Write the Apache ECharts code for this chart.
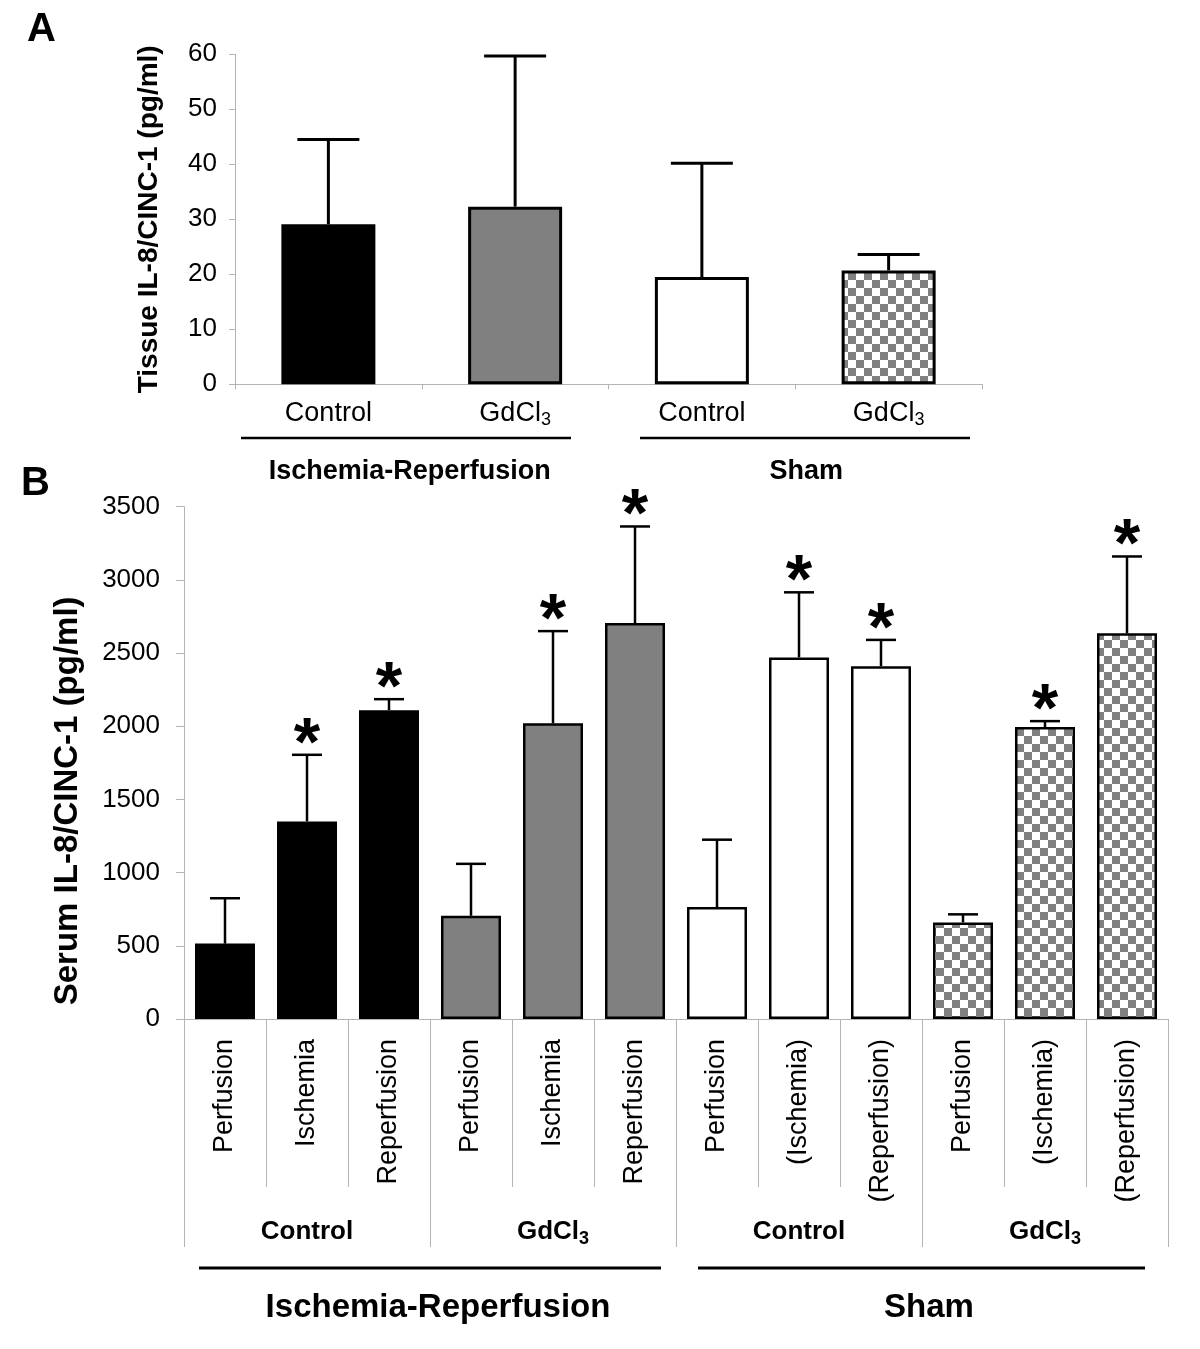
<!DOCTYPE html>
<html><head><meta charset="utf-8">
<script src="https://cdn.jsdelivr.net/npm/echarts@6/dist/echarts.min.js"></script>
<style>html,body{margin:0;padding:0;background:#fff}#c{width:1200px;height:1349px}</style>
</head><body><div id="c"></div>
<script>
// ---------- DATA ----------
// Panel A: tissue IL-8/CINC-1 (pg/ml)
const aCategories = ['Control', 'GdCl3', 'Control', 'GdCl3'];
const aGroups = ['Ischemia-Reperfusion', 'Sham'];
const aMeans = [29.1, 32.3, 19.5, 20.7];
const aSD = [15.4, 27.4, 20.7, 2.9];
const aFillKeys = ['black', 'gray', 'white', 'checker'];

// Panel B: serum IL-8/CINC-1 (pg/ml)
const bPhases = ['Perfusion', 'Ischemia', 'Reperfusion', 'Perfusion', 'Ischemia', 'Reperfusion',
                 'Perfusion', '(Ischemia)', '(Reperfusion)', 'Perfusion', '(Ischemia)', '(Reperfusion)'];
const bTreatments = ['Control', 'GdCl3', 'Control', 'GdCl3'];
const bGroups = ['Ischemia-Reperfusion', 'Sham'];
const bMeans = [515, 1350, 2110, 705, 2020, 2705, 765, 2470, 2410, 660, 1995, 2635];
const bSD = [310, 455, 75, 355, 630, 660, 460, 445, 180, 55, 40, 525];
const bSignificant = [0, 1, 1, 0, 1, 1, 0, 1, 1, 0, 1, 1];
const bFillKeys = ['black', 'gray', 'white', 'checker']; // per treatment group of 3

// ---------- STYLE ----------
const FONT = '"Liberation Sans", Arial, sans-serif';
const AXIS_GRAY = '#b4b4b4';

function makeChecker() {
  const c = document.createElement('canvas');
  c.width = 16; c.height = 16;
  const g = c.getContext('2d');
  g.fillStyle = '#ffffff'; g.fillRect(0, 0, 16, 16);
  g.fillStyle = '#808080';
  g.fillRect(0, 0, 8, 8); g.fillRect(8, 8, 8, 8);
  return c;
}
const checker = makeChecker();
const fills = {
  black: '#000000',
  gray: '#808080',
  white: '#ffffff',
  checker: { image: checker, repeat: 'repeat' }
};

function gdFormatter(v) {
  return v === 'GdCl3' ? '{m|GdCl}{s|3}' : '{m|' + v + '}';
}
function plainNum(v) { return String(v); }

function errRender(capHalf, lw, starOffset, starFont) {
  return function (params, api) {
    const i = api.value(0), m = api.value(1), sd = api.value(2), sig = api.value(3);
    const p0 = api.coord([i, m]);
    const p1 = api.coord([i, m + sd]);
    const children = [
      { type: 'line', shape: { x1: p0[0], y1: p0[1], x2: p1[0], y2: p1[1] }, style: { stroke: '#000', lineWidth: lw } },
      { type: 'line', shape: { x1: p1[0] - capHalf, y1: p1[1], x2: p1[0] + capHalf, y2: p1[1] }, style: { stroke: '#000', lineWidth: lw } }
    ];
    if (sig) {
      children.push({
        type: 'text',
        style: { text: '*', x: p1[0], y: p1[1] - starOffset, font: starFont, fill: '#000', align: 'center', verticalAlign: 'middle' }
      });
    }
    return { type: 'group', children: children };
  };
}

const chart = echarts.init(document.getElementById('c'), null, { renderer: 'canvas' });

const richA = {
  m: { fontSize: 27, fontFamily: FONT, color: '#000', lineHeight: 32 },
  s: { fontSize: 18, fontFamily: FONT, color: '#000', lineHeight: 18, verticalAlign: 'bottom' }
};
const richBBold = {
  m: { fontSize: 26, fontWeight: 'bold', fontFamily: FONT, color: '#000', lineHeight: 32 },
  s: { fontSize: 18, fontWeight: 'bold', fontFamily: FONT, color: '#000', lineHeight: 18, verticalAlign: 'bottom' }
};

const option = {
  animation: false,
  backgroundColor: '#ffffff',
  grid: [
    { left: 235, top: 54.3, width: 747, height: 330 },
    { left: 184, top: 506.7, width: 984, height: 512.3 }
  ],
  xAxis: [
    // Panel A
    {
      type: 'category', gridIndex: 0, data: aCategories, position: 'bottom',
      axisLine: { show: true, lineStyle: { color: AXIS_GRAY, width: 1 } },
      axisTick: { show: true, length: 5, lineStyle: { color: AXIS_GRAY } },
      axisLabel: { margin: 13, formatter: gdFormatter, rich: richA }
    },
    {
      type: 'category', gridIndex: 0, data: aGroups, position: 'bottom',
      axisLine: { show: false }, axisTick: { show: false },
      axisLabel: {
        margin: 74,
        formatter: function (v) { return v === 'Sham' ? '{sh|' + v + '}' : '{ir|' + v + '}'; },
        rich: {
          ir: { fontSize: 27, fontWeight: 'bold', fontFamily: FONT, color: '#000', padding: [0, 24, 0, 0] },
          sh: { fontSize: 27, fontWeight: 'bold', fontFamily: FONT, color: '#000', padding: [0, 0, 0, 22] }
        }
      }
    },
    // Panel B
    {
      type: 'category', gridIndex: 1, data: bPhases, position: 'bottom',
      axisLine: { show: true, lineStyle: { color: AXIS_GRAY, width: 1 } },
      axisTick: { show: true, length: 168, interval: 0, lineStyle: { color: AXIS_GRAY } },
      axisLabel: { interval: 0, rotate: 90, margin: 20, fontSize: 27, fontFamily: FONT, color: '#000' }
    },
    {
      type: 'category', gridIndex: 1, data: bTreatments, position: 'bottom',
      axisLine: { show: false },
      axisTick: { show: true, length: 228, interval: 0, lineStyle: { color: AXIS_GRAY } },
      axisLabel: { interval: 0, margin: 197, formatter: gdFormatter, rich: richBBold }
    },
    {
      type: 'category', gridIndex: 1, data: bGroups, position: 'bottom',
      axisLine: { show: false }, axisTick: { show: false },
      axisLabel: {
        interval: 0, margin: 272,
        formatter: function (v) { return v === 'Sham' ? '{sh|' + v + '}' : '{ir|' + v + '}'; },
        rich: {
          ir: { fontSize: 33, fontWeight: 'bold', fontFamily: FONT, color: '#000', padding: [0, 0, 0, 16] },
          sh: { fontSize: 33, fontWeight: 'bold', fontFamily: FONT, color: '#000', padding: [0, 0, 0, 14] }
        }
      }
    }
  ],
  yAxis: [
    {
      type: 'value', gridIndex: 0, min: 0, max: 60, interval: 10,
      name: 'Tissue IL-8/CINC-1 (pg/ml)', nameLocation: 'middle', nameRotate: 90, nameGap: 72,
      nameTextStyle: { fontSize: 28, fontWeight: 'bold', fontFamily: FONT, color: '#000' },
      axisLine: { show: true, lineStyle: { color: AXIS_GRAY, width: 1 } },
      axisTick: { show: true, length: 6, lineStyle: { color: AXIS_GRAY } },
      splitLine: { show: false },
      axisLabel: { margin: 18, fontSize: 26, fontFamily: FONT, color: '#000', formatter: plainNum }
    },
    {
      type: 'value', gridIndex: 1, min: 0, max: 3500, interval: 500,
      name: 'Serum IL-8/CINC-1 (pg/ml)', nameLocation: 'middle', nameRotate: 90, nameGap: 100,
      nameTextStyle: { fontSize: 33, fontWeight: 'bold', fontFamily: FONT, color: '#000', padding: [0, 76, 0, 0] },
      axisLine: { show: true, lineStyle: { color: AXIS_GRAY, width: 1 } },
      axisTick: { show: true, length: 8, lineStyle: { color: AXIS_GRAY } },
      splitLine: { show: false },
      axisLabel: { margin: 24, fontSize: 26, fontFamily: FONT, color: '#000', formatter: plainNum }
    }
  ],
  series: [
    {
      type: 'bar', xAxisIndex: 0, yAxisIndex: 0, barWidth: 94,
      data: aMeans.map(function (v, i) {
        return { value: v, itemStyle: { color: fills[aFillKeys[i]], borderColor: '#000', borderWidth: 3 } };
      }),
      z: 2
    },
    {
      type: 'custom', xAxisIndex: 0, yAxisIndex: 0,
      renderItem: errRender(31, 3, 0, ''),
      encode: { x: 0, y: 1 },
      data: aMeans.map(function (v, i) { return [i, v, aSD[i], 0]; }),
      z: 3
    },
    {
      type: 'bar', xAxisIndex: 2, yAxisIndex: 1, barWidth: 60,
      data: bMeans.map(function (v, i) {
        return { value: v, itemStyle: { color: fills[bFillKeys[Math.floor(i / 3)]], borderColor: '#000', borderWidth: 2.5 } };
      }),
      z: 2
    },
    {
      type: 'custom', xAxisIndex: 2, yAxisIndex: 1,
      renderItem: errRender(15, 2.5, 9, 'bold 68px ' + FONT),
      encode: { x: 0, y: 1 },
      data: bMeans.map(function (v, i) { return [i, v, bSD[i], bSignificant[i]]; }),
      z: 3
    }
  ],
  graphic: [
    { type: 'text', left: 27, top: 10, style: { text: 'A', font: 'bold 40px ' + FONT, fill: '#000' } },
    { type: 'text', left: 21, top: 464, style: { text: 'B', font: 'bold 40px ' + FONT, fill: '#000' } },
    { type: 'line', shape: { x1: 241, y1: 438, x2: 571, y2: 438 }, style: { stroke: '#000', lineWidth: 2.5 } },
    { type: 'line', shape: { x1: 640, y1: 438, x2: 970, y2: 438 }, style: { stroke: '#000', lineWidth: 2.5 } },
    { type: 'line', shape: { x1: 199, y1: 1268, x2: 661, y2: 1268 }, style: { stroke: '#000', lineWidth: 3 } },
    { type: 'line', shape: { x1: 698, y1: 1268, x2: 1145, y2: 1268 }, style: { stroke: '#000', lineWidth: 3 } }
  ]
};
chart.setOption(option);
</script>
</body></html>
